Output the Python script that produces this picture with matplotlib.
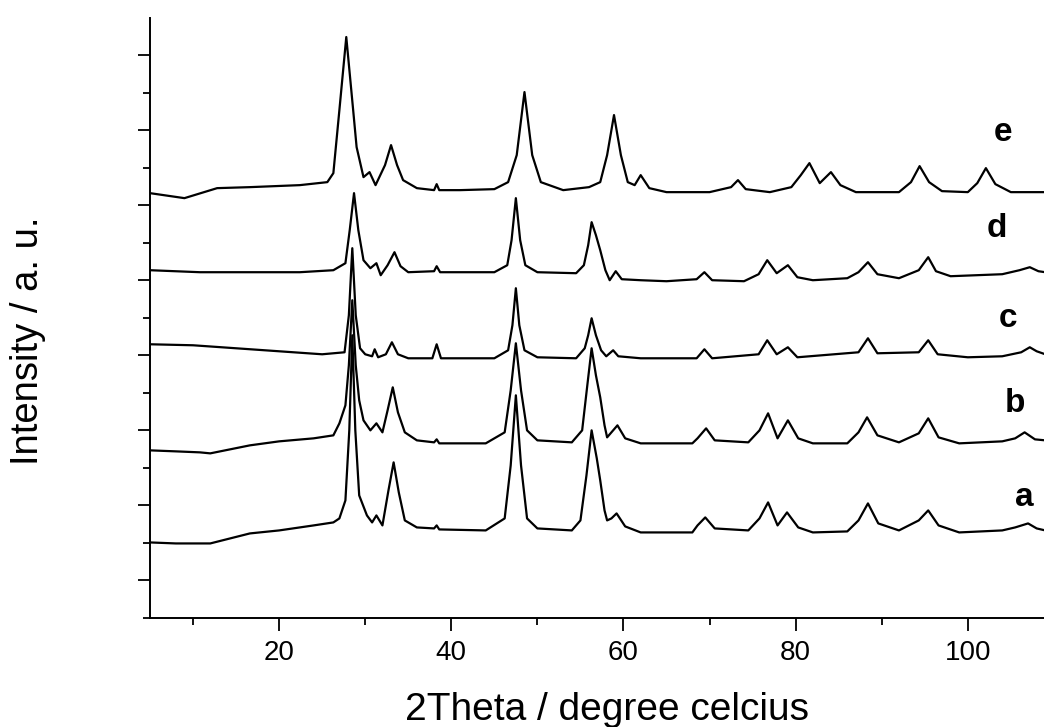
import matplotlib.pyplot as plt
from matplotlib.ticker import MultipleLocator

plt.rcParams['font.family'] = ['Liberation Sans', 'DejaVu Sans']

# (2theta, intensity), stacking offset already included
pattern_a = [(5, 38), (8, 37), (12, 37), (16.6, 47), (20, 50), (24, 55), (26.3, 58), (27.0, 62),
             (27.7, 80), (28.15, 150), (28.5, 245), (28.85, 150), (29.3, 85), (30.2, 65), (30.8, 58),
             (31.3, 65), (32.0, 55), (32.7, 90), (33.3, 118), (33.9, 88), (34.6, 60), (36, 53), (38, 52),
             (38.3, 55), (38.6, 51), (44, 50), (46.2, 62), (46.9, 115), (47.5, 185), (48.1, 115), (48.8, 62),
             (50, 52), (54, 50), (55.0, 60), (55.7, 105), (56.3, 150), (56.9, 122), (57.3, 100), (57.8, 70),
             (58.1, 60), (58.6, 62), (59.2, 67), (60.2, 54), (62, 48), (68, 48), (68.6, 55), (69.5, 63),
             (70.6, 52), (74.5, 50), (75.8, 62), (76.8, 78), (77.9, 55), (79.0, 68), (80.3, 53), (82, 48),
             (86, 49), (87.3, 60), (88.4, 77), (89.6, 57), (92, 50), (94.3, 60), (95.4, 70), (96.6, 55),
             (99, 48), (104, 50), (105.5, 53), (107, 57), (108, 52), (109, 50)]

pattern_b = [(5, 130), (8, 129), (10.8, 128), (12, 127), (16.6, 135), (20, 139), (24, 142), (26.3, 145),
             (27.0, 157), (27.7, 175), (28.1, 215), (28.5, 280), (28.9, 215), (29.3, 180), (29.8, 160),
             (30.6, 150), (31.3, 157), (32.0, 148), (32.6, 170), (33.2, 193), (33.8, 168), (34.6, 148),
             (36, 140), (38, 138), (38.3, 141), (38.6, 137), (44, 137), (46.2, 148), (46.9, 190), (47.5, 237),
             (48.1, 190), (48.8, 150), (50, 140), (54, 138), (55.2, 150), (55.8, 195), (56.3, 232), (56.8, 205),
             (57.3, 183), (57.8, 155), (58.1, 143), (58.6, 148), (59.3, 155), (60.2, 142), (62, 137), (68, 137),
             (68.6, 142), (69.6, 152), (70.6, 140), (74.5, 138), (75.8, 150), (76.8, 167), (77.9, 142),
             (79.1, 160), (80.3, 142), (82, 137), (86, 137), (87.3, 148), (88.3, 163), (89.5, 145), (92, 138),
             (94.3, 147), (95.4, 162), (96.6, 143), (99, 137), (104, 139), (105.5, 142), (106.6, 148),
             (107.8, 141), (109, 140)]

pattern_c = [(5, 236), (10, 235), (15, 232), (20, 229), (25, 226), (27.6, 228), (28.1, 265), (28.5, 332),
             (28.9, 265), (29.4, 232), (30, 226), (30.8, 224), (31.1, 231), (31.5, 223), (32.4, 226), (33.1, 238),
             (33.8, 226), (35, 222), (37.8, 222), (38.3, 236), (38.8, 222), (45, 222), (46.6, 230), (47.1, 255),
             (47.5, 292), (47.9, 255), (48.5, 230), (50, 223), (54.5, 222), (55.5, 232), (55.9, 245), (56.3, 262),
             (56.8, 245), (57.4, 230), (58, 224), (58.8, 230), (59.4, 224), (62, 222), (68.5, 222), (69.4, 231),
             (70.3, 222), (75.7, 226), (76.7, 240), (77.8, 226), (79.1, 233), (80.2, 223), (87.3, 228), (88.4, 242),
             (89.5, 227), (94.3, 228), (95.4, 240), (96.5, 226), (100, 223), (104, 224), (106.2, 228), (107.2, 233),
             (108, 229), (109, 226)]

pattern_d = [(5, 310), (10.8, 308), (22.4, 308), (26.3, 310), (27.7, 317), (28.2, 350), (28.7, 387), (29.2, 350),
             (29.8, 320), (30.6, 312), (31.3, 317), (31.8, 305), (32.6, 315), (33.4, 328), (34.1, 314), (35, 308),
             (38.0, 309), (38.3, 314), (38.7, 308), (45, 308), (46.5, 315), (47.0, 340), (47.5, 382), (48.0, 340),
             (48.6, 315), (50, 308), (54.5, 307), (55.4, 315), (55.9, 335), (56.3, 358), (56.8, 345), (57.3, 330),
             (57.9, 310), (58.4, 300), (59.1, 309), (59.8, 301), (62, 300), (65, 299), (68.5, 301), (69.4, 308),
             (70.3, 300), (74, 299), (75.7, 306), (76.7, 320), (77.8, 307), (79.1, 315), (80.2, 303), (82, 300),
             (86, 302), (87.3, 308), (88.4, 318), (89.5, 306), (92, 302), (94.3, 310), (95.4, 323), (96.3, 309),
             (98, 304), (101, 305), (104, 306), (106, 310), (107.2, 313), (108.2, 309), (109, 308)]

pattern_e = [(5, 387), (9, 382), (12.8, 392), (16.6, 393), (22.4, 395), (25.6, 398), (26.3, 407), (27.0, 470),
             (27.8, 543), (28.6, 470), (29.0, 433), (29.8, 403), (30.5, 408), (31.2, 395), (32.3, 415), (33.0, 435),
             (33.7, 415), (34.4, 400), (36, 392), (38.0, 390), (38.3, 396), (38.6, 390), (41, 390), (45, 391),
             (46.6, 398), (47.6, 425), (48.5, 488), (49.4, 425), (50.4, 398), (53, 390), (56, 393), (57.3, 398),
             (58.1, 425), (58.9, 465), (59.7, 425), (60.5, 398), (61.3, 395), (62.0, 405), (63.0, 392), (65, 388),
             (70, 388), (72.5, 393), (73.3, 400), (74.2, 391), (77, 388), (79.5, 393), (80.6, 405), (81.6, 417),
             (82.8, 397), (84.1, 408), (85.2, 395), (87, 388), (92, 388), (93.4, 398), (94.4, 414), (95.5, 398),
             (97, 389), (100, 388), (101.1, 397), (102.1, 412), (103.2, 396), (105, 388), (109, 388)]

patterns = [pattern_a, pattern_b, pattern_c, pattern_d, pattern_e]
sample_names = ['a', 'b', 'c', 'd', 'e']

fig = plt.figure(figsize=(10.44, 7.27), dpi=100)
ax = fig.add_axes([150 / 1044, 1 - 618 / 727, 894 / 1044, 600 / 727])

for pat in patterns:
    tt, inten = zip(*pat)
    ax.plot(tt, inten, color='black', linewidth=1.6)

# letters next to each pattern
name_x = [106.6, 105.5, 104.7, 103.4, 104.1]
name_y = [83, 177, 262, 352, 448]
for name, x, y in zip(sample_names, name_x, name_y):
    ax.text(x, y, name, fontsize=24, fontweight='bold', ha='center', va='center')

ax.set_xlim(5, 108.85)
ax.set_ylim(-37.5, 562)
ax.xaxis.set_major_locator(MultipleLocator(20))
ax.xaxis.set_minor_locator(MultipleLocator(10))
ax.yaxis.set_major_locator(MultipleLocator(75))
ax.yaxis.set_minor_locator(MultipleLocator(37.5))
ax.tick_params(which='major', length=9, width=1.3, labelsize=20, pad=7)
ax.tick_params(which='minor', length=5, width=1.3)
ax.tick_params(axis='y', which='both', labelleft=False)
for side in ['top', 'right']:
    ax.spines[side].set_visible(False)
for side in ['left', 'bottom']:
    ax.spines[side].set_linewidth(1.4)

fig.text(607 / 1044, 1 - 720 / 727, '2Theta / degree celcius', fontsize=28, ha='center', va='baseline')
fig.text(28 / 1044, 1 - 341 / 727, 'Intensity / a. u.', fontsize=27.5, rotation=90, ha='center', va='center')

fig.savefig('out.png', dpi=100)
